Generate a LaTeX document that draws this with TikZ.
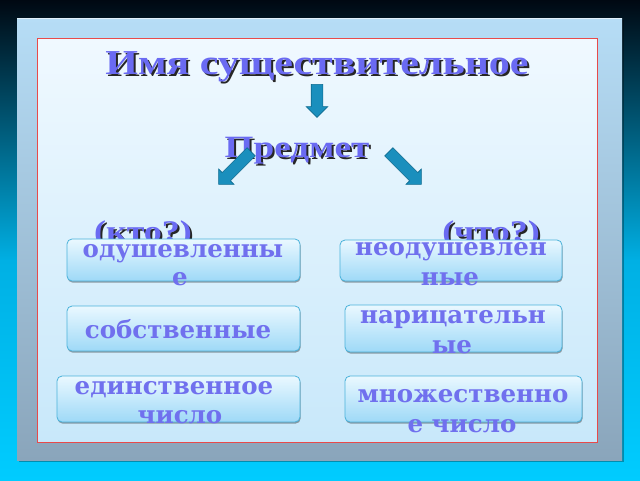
\documentclass[tikz,border=0pt]{standalone}
\usepackage{fontspec}
\setmainfont{Liberation Serif}
\newfontfamily\headfont[FakeStretch=1.2]{Liberation Serif}
\newfontfamily\boxfont{DejaVu Serif}
\usetikzlibrary{shapes.arrows,shadows}
\definecolor{bgtop}{HTML}{000812}
\definecolor{bgmid}{HTML}{00B0E4}
\definecolor{bgbot}{HTML}{00CCFF}
\definecolor{frametop}{HTML}{B6DDF6}
\definecolor{framebot}{HTML}{8AA5BB}
\definecolor{paneltop}{HTML}{F0F9FF}
\definecolor{panelbot}{HTML}{C8E8FA}
\definecolor{panelred}{HTML}{E84A4A}
\definecolor{headc}{HTML}{6A6AF2}
\definecolor{boxtxtc}{HTML}{7070EE}
\definecolor{boxtop}{HTML}{EAF8FF}
\definecolor{boxbot}{HTML}{9ED9F7}
\definecolor{boxedge}{HTML}{4AB2DA}
\definecolor{arrowfill}{HTML}{1A8FBD}
\definecolor{arrowedge}{HTML}{0D6A8F}
\newcommand\shtxt[1]{\makebox[0pt][l]{\hspace{2pt}\raisebox{-2pt}{\color{black!85}#1}}#1}
\begin{document}
\begin{tikzpicture}[x=1pt,y=-1pt,
  headtxt/.style={font=\headfont\bfseries\fontsize{#1}{#1}\selectfont, text=headc, anchor=base, inner sep=0pt},
  boxtxt/.style={font=\boxfont\bfseries\fontsize{24.5}{24.5}\selectfont, text=boxtxtc, anchor=base, inner sep=0pt},
  boxst/.style={rectangle, rounded corners=5pt, draw=boxedge, line width=0.8pt,
    top color=boxtop, bottom color=boxbot, inner sep=0pt,
    drop shadow={shadow xshift=0.6pt, shadow yshift=-1.6pt, opacity=0.35, fill=black}},
  blockarrow/.style={single arrow, draw=arrowedge, line width=0.6pt, fill=arrowfill,
    inner xsep=0pt, inner ysep=5.5pt, single arrow head extend=5pt, single arrow tip angle=90}
]
\useasboundingbox (0,0) rectangle (640,480);
% background
\shade[top color=bgtop, bottom color=bgmid] (0,0) rectangle (640,262);
\shade[top color=bgmid, bottom color=bgbot] (0,260) rectangle (640,480);
% frame
\fill[black, opacity=0.3] (19,20) rectangle (624,462);
\shade[top color=frametop, bottom color=framebot] (17,18) rectangle (622,460);
\draw[white, opacity=0.6, line width=0.8pt] (17.4,18.4) -- (621.6,18.4);
% panel
\shade[top color=paneltop, bottom color=panelbot] (37,38) rectangle (597,442);
\draw[panelred, line width=0.8pt] (37,38) rectangle (597,442);
% headings
\node[headtxt=35] (title) at (317,74) {\shtxt{Имя существительное}};
\node[headtxt=31] (pred) at (297,157) {\shtxt{Предмет}};
\node[headtxt=30] (kto) at (143,241) {\shtxt{(кто?)}};
\node[headtxt=30] (chto) at (491,241) {\shtxt{(что?)}};
% arrows
\node[blockarrow, minimum height=33pt, rotate=-90] (adown) at (317,98) {};
\node[blockarrow, minimum height=46pt, rotate=-135] (aleft) at (237,166) {};
\node[blockarrow, minimum height=46pt, rotate=-45] (aright) at (403,166) {};
% boxes
\node[boxst, minimum width=233pt, minimum height=42pt] (b1) at (183.5,260) {};
\node[boxst, minimum width=222pt, minimum height=41pt] (b2) at (451,260.5) {};
\node[boxst, minimum width=233pt, minimum height=45pt] (b3) at (183.5,328.5) {};
\node[boxst, minimum width=217pt, minimum height=47pt] (b4) at (453.5,328.5) {};
\node[boxst, minimum width=243pt, minimum height=46pt] (b5) at (178.5,399) {};
\node[boxst, minimum width=237pt, minimum height=46pt] (b6) at (463.5,399) {};
% box texts
\node[boxtxt] (t1a) at (183,257) {одушевленны};
\node[boxtxt] (t1b) at (180,285) {е};
\node[boxtxt] (t2a) at (451,255) {неодушевлен};
\node[boxtxt] (t2b) at (450,285) {ные};
\node[boxtxt] (t3) at (178,338) {собственные};
\node[boxtxt] (t4a) at (453,323) {нарицательн};
\node[boxtxt] (t4b) at (452,353) {ые};
\node[boxtxt] (t5a) at (174,394) {единственное};
\node[boxtxt] (t5b) at (180,423) {число};
\node[boxtxt] (t6a) at (463,402) {множественно};
\node[boxtxt] (t6b) at (462,432) {е число};
\end{tikzpicture}
\end{document}
